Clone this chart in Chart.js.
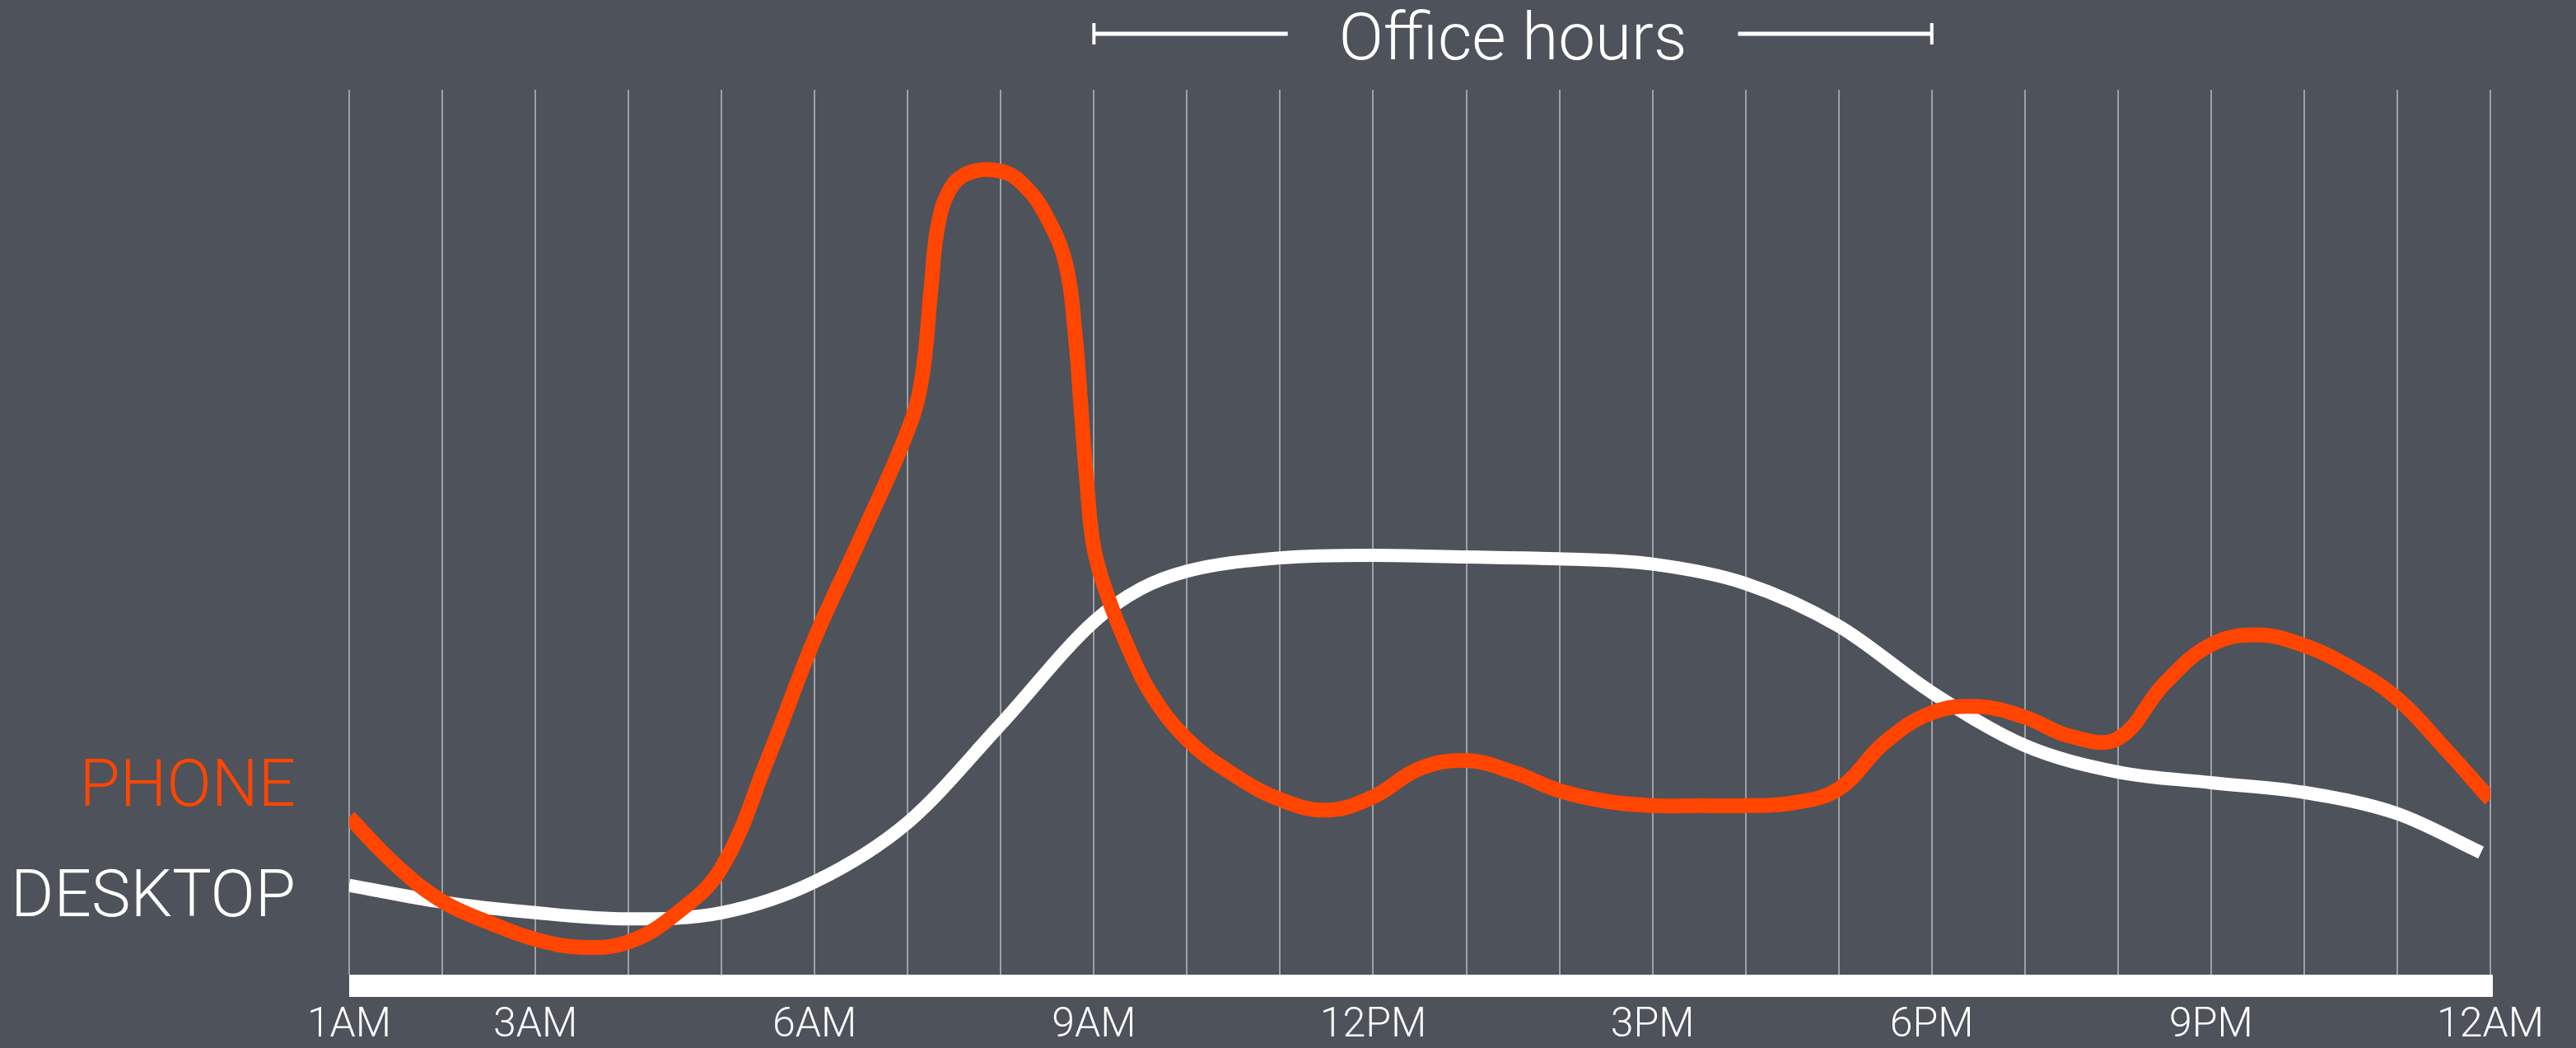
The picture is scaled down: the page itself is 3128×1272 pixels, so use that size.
<!DOCTYPE html>
<html>
<head>
<meta charset="utf-8">
<title>Phone vs desktop by hour</title>
<script src="https://cdn.jsdelivr.net/npm/chart.js@4/dist/chart.umd.min.js"></script>
<style>
  html, body { margin:0; padding:0; background:#4e525a; }
  canvas { display:block; }
</style>
</head>
<body>
<canvas id="usageChart" width="3128" height="1272"></canvas>
<script>
/* =========================
   DATA
========================= */

const hourLabels = [
    "1AM","2AM","3AM","4AM","5AM","6AM","7AM","8AM","9AM","10AM","11AM","12PM",
    "1PM","2PM","3PM","4PM","5PM","6PM","7PM","8PM","9PM","10PM","11PM","12AM"
];

const shownLabels = ["1AM","3AM","6AM","9AM","12PM","3PM","6PM","9PM","12AM"];

// x = hours after 1AM
const phoneHours = [
    0, 0.5, 1, 1.5, 2, 2.5, 3, 3.5, 4, 4.5, 5, 5.5, 6,
    6.15, 6.25, 6.32, 6.45, 6.65, 7, 7.25, 7.5, 7.7, 7.8, 7.86, 7.92, 8, 8.15, 8.35, 8.6,
    9, 9.5, 10, 10.5, 11, 11.5, 12, 12.5, 13, 13.5, 14, 14.5, 15, 15.5, 16, 16.5,
    17, 17.5, 18, 18.5, 19, 19.5, 20, 20.5, 21, 21.5, 22, 22.5, 23
];
const phoneValues = [
    17.8, 12.4, 8.3, 5.9, 4.0, 3.1, 3.7, 6.8, 12.1, 24.5, 38.0, 49.5, 61.5,
    67.3, 77.5, 84.4, 88.7, 90.6, 90.8, 89.2, 85.5, 80.2, 72.2, 64.2, 56.1, 48.2, 42.7, 37.4, 32.0,
    26.6, 22.6, 19.8, 18.6, 20.1, 23.3, 24.2, 22.9, 20.8, 19.6, 19.1, 19.1, 19.1, 19.4, 21.0, 26.3,
    29.6, 30.3, 29.1, 26.9, 26.7, 32.9, 37.3, 38.4, 37.2, 34.7, 31.2, 25.7, 19.8
];

const desktopHours = [
    0, 1, 2, 3, 4, 5, 6, 7, 8, 8.5, 9, 10, 11, 12, 13, 14, 15, 16, 17, 18, 19, 20, 21, 22, 22.9
];
const desktopValues = [
    10.1, 8.2, 7.0, 6.3, 7.0, 10.5, 17.2, 28.3, 39.9, 43.6, 45.6, 47.1, 47.4, 47.2, 47.0, 46.4,
    44.2, 39.4, 31.9, 25.9, 22.9, 21.7, 20.6, 18.2, 13.8
];

const seriesNames = ["PHONE","DESKTOP"];
const officeLabel = "Office hours";
const officeFrom = "9AM";
const officeTo = "6PM";


/* =========================
   COLOURS / FONTS
========================= */

const ORANGE = "#ff4500";
const WHITE = "#ffffff";
const FONT = "Roboto, 'Helvetica Neue', Arial, sans-serif";


function toPoints(xs, ys){
    return xs.map((x, i) => ({ x, y: ys[i] }));
}


/* =========================
   DECOR PLUGIN
========================= */

const decorPlugin = {

    id:"decor",

    beforeDatasetsDraw(chart){

        const { ctx, chartArea } = chart;

        ctx.save();
        ctx.fillStyle = WHITE;
        ctx.fillRect(
            chartArea.left,
            chartArea.bottom,
            chartArea.right - chartArea.left + 3,
            27
        );
        ctx.restore();

    },

    afterDraw(chart){

        const { ctx, chartArea } = chart;
        const xScale = chart.scales.x;

        ctx.save();

        // series labels on the left
        ctx.font = "300 80px " + FONT;
        ctx.textAlign = "right";
        ctx.textBaseline = "alphabetic";

        ctx.fillStyle = ORANGE;
        ctx.fillText(seriesNames[0], chartArea.left - 65, 978);

        ctx.fillStyle = WHITE;
        ctx.fillText(seriesNames[1], chartArea.left - 65, 1112);

        // office hours bracket
        const x1 = xScale.getPixelForValue(hourLabels.indexOf(officeFrom));
        const x2 = xScale.getPixelForValue(hourLabels.indexOf(officeTo));
        const mid = (x1 + x2) / 2;
        const lineY = 41;

        ctx.textAlign = "center";
        ctx.fillText(officeLabel, mid, 72);

        const half = ctx.measureText(officeLabel).width / 2;
        const gap = 62;

        ctx.strokeStyle = WHITE;
        ctx.lineWidth = 5;
        ctx.beginPath();
        ctx.moveTo(x1, lineY);
        ctx.lineTo(mid - half - gap, lineY);
        ctx.moveTo(mid + half + gap, lineY);
        ctx.lineTo(x2, lineY);
        ctx.stroke();

        ctx.lineWidth = 4;
        ctx.beginPath();
        ctx.moveTo(x1, lineY - 13);
        ctx.lineTo(x1, lineY + 13);
        ctx.moveTo(x2, lineY - 13);
        ctx.lineTo(x2, lineY + 13);
        ctx.stroke();

        ctx.restore();

    }

};


/* =========================
   CHART
========================= */

new Chart(document.getElementById("usageChart"), {

    type:"line",

    data:{

        datasets:[
            {
                label:seriesNames[0],
                data:toPoints(phoneHours, phoneValues),
                borderColor:ORANGE,
                borderWidth:18,
                pointRadius:0,
                tension:0.4,
                fill:false
            },
            {
                label:seriesNames[1],
                data:toPoints(desktopHours, desktopValues),
                borderColor:WHITE,
                borderWidth:16,
                pointRadius:0,
                cubicInterpolationMode:"monotone",
                fill:false
            }
        ]

    },

    options:{

        responsive:false,
        animation:false,
        devicePixelRatio:1,

        layout:{
            padding:{ left:424, right:104, top:109, bottom:0 }
        },

        plugins:{
            legend:{ display:false },
            tooltip:{ enabled:false },
            title:{ display:false }
        },

        scales:{

            x:{
                type:"linear",
                min:0,
                max:23,
                afterFit(scale){ scale.height = 89; },
                border:{ display:false },
                grid:{
                    color:"#9da0a5",
                    lineWidth:2,
                    drawTicks:false
                },
                ticks:{
                    stepSize:1,
                    autoSkip:false,
                    maxRotation:0,
                    padding:37,
                    color:WHITE,
                    font:{ family:FONT, size:50, weight:"300", lineHeight:1 },
                    callback:value => {
                        const label = hourLabels[value];
                        return shownLabels.includes(label) ? label : "";
                    }
                }
            },

            y:{
                display:false,
                min:0,
                max:100
            }

        }

    },

    plugins:[decorPlugin]

});
</script>
</body>
</html>
